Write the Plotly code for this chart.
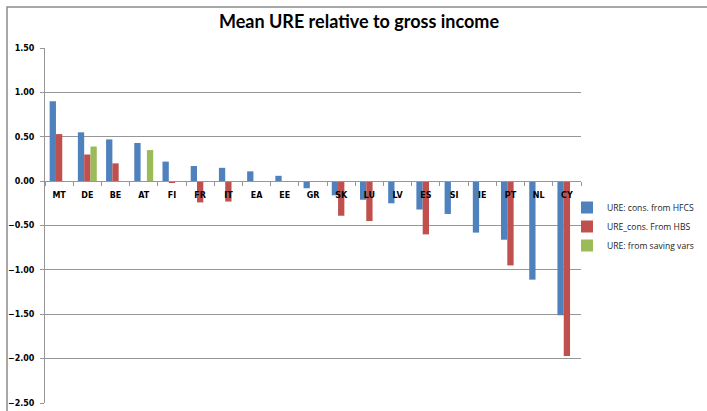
import plotly.graph_objects as go

countries = ["MT", "DE", "BE", "AT", "FI", "FR", "IT", "EA", "EE", "GR",
             "SK", "LU", "LV", "ES", "SI", "IE", "PT", "NL", "CY"]

ure_hfcs = [0.90, 0.55, 0.47, 0.43, 0.22, 0.17, 0.15, 0.11, 0.06, -0.08,
            -0.16, -0.21, -0.25, -0.32, -0.37, -0.58, -0.66, -1.11, -1.51]
ure_hbs = [0.53, 0.30, 0.20, None, -0.02, -0.24, -0.23, None, None, None,
           -0.39, -0.45, None, -0.60, None, None, -0.95, None, -1.97]
ure_saving = [None, 0.39, None, 0.35, None, None, None, None, None, None,
              None, None, None, None, None, None, None, None, None]

series_names = ["URE: cons. from HFCS", "URE_cons. From HBS", "URE: from saving vars"]
series_colors = ["#4F81BD", "#C0504D", "#9BBB59"]
y_ticks = [1.5, 1.0, 0.5, 0.0, -0.5, -1.0, -1.5, -2.0, -2.5]

fig = go.Figure()
for name, vals, col in zip(series_names, [ure_hfcs, ure_hbs, ure_saving], series_colors):
    fig.add_trace(go.Bar(x=countries, y=vals, name=name,
                         marker=dict(color=col, line=dict(width=0))))

grid = "#969696"
W, H = 707, 411
L, R, T, B = 45, 126, 48, 8
pw, ph = W - L - R, H - T - B

fig.update_layout(
    width=W, height=H,
    margin=dict(l=L, r=R, t=T, b=B),
    paper_bgcolor="white", plot_bgcolor="white",
    barmode="group", bargap=0.33, bargroupgap=0,
    title=dict(text="<b>Mean URE relative to gross income</b>",
               font=dict(family="Lato", size=18, color="#000000"),
               x=(359 - L) / pw, xref="paper", xanchor="center",
               y=1 - 22 / H, yref="container", yanchor="middle"),
    xaxis=dict(type="category", range=[-0.5, len(countries) - 0.5],
               anchor="free", position=2.5 / 4.0, automargin=False,
               showline=True, linecolor=grid, linewidth=1,
               ticks="outside", tickson="boundaries", ticklen=4, tickcolor=grid,
               showgrid=False,
               tickfont=dict(family="DejaVu Sans", size=8, color="#000000",
                             weight="bold"),
               ticklabelstandoff=6),
    yaxis=dict(range=[-2.5, 1.5], tickvals=y_ticks, tickformat=".2f",
               automargin=False,
               showgrid=True, gridcolor=grid, gridwidth=1,
               zeroline=False,
               showline=True, linecolor=grid, linewidth=1,
               ticks="outside", ticklen=4, tickcolor=grid,
               tickfont=dict(family="DejaVu Sans", size=8, color="#000000",
                             weight="bold"),
               ticklabelstandoff=4),
    legend=dict(x=(567 - L) / pw, xanchor="left",
                y=(H - B - 193) / ph, yanchor="top",
                font=dict(family="Open Sans", size=8.6, color="#222222"),
                bgcolor="rgba(0,0,0,0)", itemwidth=30, tracegroupgap=0),
    shapes=[dict(type="rect", xref="paper", yref="paper",
                 x0=(7 - L) / pw, x1=(W + 5 - L) / pw,
                 y0=(H - B - (H + 5)) / ph, y1=(H - B - 7) / ph,
                 line=dict(color="#8C8C8C", width=1.5), fillcolor="rgba(0,0,0,0)",
                 layer="below")],
)

fig.write_html("out.html")
